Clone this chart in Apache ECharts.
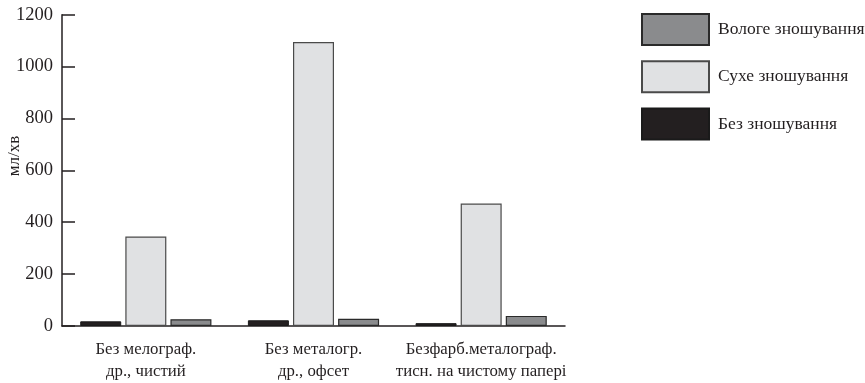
<!DOCTYPE html>
<html>
<head>
<meta charset="utf-8">
<script src="https://cdn.jsdelivr.net/npm/echarts@6/dist/echarts.min.js"></script>
<style>html,body{margin:0;padding:0;background:#fff}#c{width:865px;height:383px}</style>
</head>
<body>
<div id="c"></div>
<script>
const categories = ['Без мелограф.\nдр., чистий', 'Без металогр.\nдр., офсет', 'Безфарб.металограф.\nтисн. на чистому папері'];
const seriesNames = ['Без зношування', 'Сухе зношування', 'Вологе зношування'];
const noWear = [18, 22, 11];
const dryWear = [345, 1095, 472];
const wetWear = [26, 28, 39];
const yTicks = [0, 200, 400, 600, 800, 1000, 1200];
const yName = 'мл/хв';

const FONT = '"Liberation Serif", "DejaVu Serif", serif';
const TXT = '#231f20';
const chart = echarts.init(document.getElementById('c'));
chart.setOption({
  animation: false,
  backgroundColor: '#fff',
  textStyle: { fontFamily: FONT, color: TXT },
  grid: { left: 62, right: 300, top: 14.7, bottom: 54, containLabel: false },
  legend: {
    orient: 'vertical', left: 641, top: 13, padding: 0,
    itemWidth: 67, itemHeight: 31, itemGap: 14.3,
    data: [seriesNames[2], seriesNames[1], seriesNames[0]],
    textStyle: { fontFamily: FONT, fontSize: 17.5, color: TXT, padding: [0, 0, 0, 4] },
    icon: 'rect', selectedMode: false
  },
  graphic: [{
    type: 'text', x: 15, y: 156, rotation: Math.PI / 2,
    style: { text: yName, font: '17px ' + FONT, fill: TXT, align: 'center', verticalAlign: 'middle' }
  }],
  xAxis: {
    type: 'category', data: categories,
    axisLine: { lineStyle: { color: TXT, width: 1.5 } },
    axisTick: { inside: true, length: 7, lineStyle: { color: TXT, width: 1.5 } },
    axisLabel: { fontFamily: FONT, fontSize: 16.8, color: TXT, margin: 13, lineHeight: 22, interval: 0 }
  },
  yAxis: {
    type: 'value', min: 0, max: 1200, interval: 200,
    axisLine: { show: true, lineStyle: { color: TXT, width: 1.5 } },
    axisTick: { show: true, inside: true, length: 13, lineStyle: { color: TXT, width: 1.5 } },
    axisLabel: { fontFamily: FONT, fontSize: 18.5, color: TXT, margin: 9,
      formatter: v => yTicks.includes(v) ? String(v) : '' },
    splitLine: { show: false }
  },
  series: [
    { name: seriesNames[0], type: 'bar', data: noWear, barWidth: 41, barGap: '10%',
      itemStyle: { color: '#231f20', borderColor: '#1a1a1a', borderWidth: 1 } },
    { name: seriesNames[1], type: 'bar', data: dryWear, barWidth: 41, barGap: '10%',
      itemStyle: { color: '#e0e1e3', borderColor: '#4a4a4a', borderWidth: 1.2 } },
    { name: seriesNames[2], type: 'bar', data: wetWear, barWidth: 41, barGap: '10%',
      itemStyle: { color: '#8a8b8d', borderColor: '#2a2a2a', borderWidth: 1.2 } }
  ]
});
</script>
</body>
</html>
